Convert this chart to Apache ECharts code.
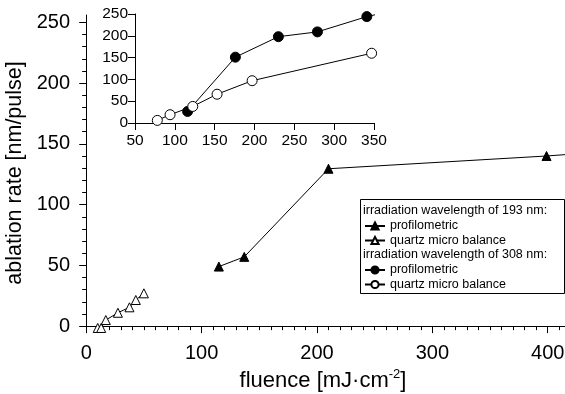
<!DOCTYPE html>
<html>
<head>
<meta charset="utf-8">
<script src="https://cdn.jsdelivr.net/npm/echarts@6/dist/echarts.min.js"></script>
<style>
  html, body { margin: 0; padding: 0; background: #fff; }
  #chart { width: 565px; height: 394px; }
</style>
</head>
<body>
<div id="chart"></div>
<script>
// fluence [mJ/cm2], ablation rate [nm/pulse]
const prof193 = [[115, 49], [137, 57], [210, 129.5], [399, 140], [500, 147]];
const qcm193 = [[10, -1.5], [13, -1.5], [17, 5], [27.5, 11], [37.5, 15.5], [43, 21.5], [50, 27]];
const prof308 = [[116, 26.5], [176, 151], [230, 198], [279, 209], [341, 244], [400, 268]];
const qcm308 = [[78, 6], [94, 19], [122.5, 38], [153, 66], [197, 97], [347, 160]];

const mainXTicks = [0, 100, 200, 300, 400];
const mainYTicks = [0, 50, 100, 150, 200, 250];
const minorX = [0, 10, 20, 30, 40, 50, 60, 70, 80, 90, 100, 110, 120, 130, 140, 150, 160, 170, 180, 190, 200,
  210, 220, 230, 240, 250, 260, 270, 280, 290, 300, 310, 320, 330, 340, 350, 360, 370, 380, 390, 400, 410];
const minorY = [0, 10, 20, 30, 40, 50, 60, 70, 80, 90, 100, 110, 120, 130, 140, 150, 160, 170, 180, 190, 200,
  210, 220, 230, 240, 250];

const legendNames = {
  p193: "profilometric",
  q193: "quartz micro balance",
  p308: "profilometric",
  q308: "quartz micro balance"
};

const FONT = "Liberation Sans, Arial, sans-serif";
const black = "#000";

const chart = echarts.init(document.getElementById("chart"));

const lineSeries = (name, data, symbol, filled, x, y, size) => ({
  name: name,
  type: "line",
  data: data,
  xAxisIndex: x,
  yAxisIndex: y,
  symbol: symbol,
  symbolSize: size,
  showAllSymbol: true,
  clip: true,
  lineStyle: { color: black, width: 1 },
  itemStyle: { color: filled ? black : "#fff", borderColor: black, borderWidth: 1 },
  z: 5
});

const legendBase = {
  orient: "vertical", left: 364, padding: 0, itemWidth: 20, itemHeight: 9, itemGap: 0,
  selectedMode: false, formatter: (n) => legendNames[n],
  textStyle: { fontSize: 12.5, lineHeight: 14.5, color: black, fontFamily: FONT }, z: 10
};

const mainGrid = { left: 81, right: 0, top: 15, bottom: 63, containLabel: false, outerBoundsMode: "none" };

chart.setOption({
  animation: false,
  textStyle: { fontFamily: FONT, color: black },
  grid: [
    mainGrid,
    { left: 135, top: 14, width: 239, height: 109, z: 3, containLabel: false, outerBoundsMode: "none" },
    Object.assign({}, mainGrid)   // carries the minor ticks of the main axes
  ],
  xAxis: [
    {
      gridIndex: 0, type: "value", min: -4.5, max: 415, position: "bottom",
      axisLine: { lineStyle: { color: black } },
      axisTick: { customValues: mainXTicks, length: 7, lineStyle: { color: black } },
      axisLabel: { customValues: mainXTicks, fontSize: 20, color: black, margin: 12 },
      splitLine: { show: false },
      name: "{a|fluence [mJ·cm}{s|-2}{a|]}",
      nameLocation: "middle", nameGap: 36,
      nameTextStyle: {
        rich: {
          a: { fontSize: 22, color: black, fontFamily: FONT },
          s: { fontSize: 13, color: black, fontFamily: FONT, padding: [0, 0, 14, 0] }
        }
      }
    },
    {
      gridIndex: 1, type: "value", min: 50, max: 350, interval: 50,
      axisLine: { lineStyle: { color: black } },
      axisTick: { length: 7, lineStyle: { color: black } },
      axisLabel: { fontSize: 15.5, color: black, margin: 10 },
      splitLine: { show: false }
    },
    {
      gridIndex: 2, type: "value", min: -4.5, max: 415, position: "bottom",
      axisLine: { show: false },
      axisTick: { show: true, customValues: minorX, length: 4, lineStyle: { color: black } },
      axisLabel: { show: true, customValues: minorX, formatter: () => "" },
      splitLine: { show: false }
    }
  ],
  yAxis: [
    {
      gridIndex: 0, type: "value", min: -4, max: 256, position: "left",
      axisLine: { show: true, lineStyle: { color: black } },
      axisTick: { show: true, customValues: mainYTicks, length: 7, lineStyle: { color: black } },
      axisLabel: { customValues: mainYTicks, fontSize: 20, color: black, margin: 11 },
      splitLine: { show: false },
      name: "ablation rate [nm/pulse]",
      nameLocation: "middle", nameGap: 35,
      nameTextStyle: { fontSize: 21.5, color: black }
    },
    {
      gridIndex: 1, type: "value", min: 0, max: 250, interval: 50,
      axisLine: { show: true, lineStyle: { color: black } },
      axisTick: { show: true, length: 7, lineStyle: { color: black } },
      axisLabel: { fontSize: 15.5, color: black, margin: 7 },
      splitLine: { show: false }
    },
    {
      gridIndex: 2, type: "value", min: -4, max: 256, position: "left",
      axisLine: { show: false },
      axisTick: { show: true, customValues: minorY, length: 4, lineStyle: { color: black } },
      axisLabel: { show: true, customValues: minorY, formatter: () => "" },
      splitLine: { show: false }
    }
  ],
  legend: [
    Object.assign({}, legendBase, { data: ["p193", "q193"], top: 218.75 }),
    Object.assign({}, legendBase, { data: ["p308", "q308"], top: 262.75 })
  ],
  graphic: [
    {
      type: "rect", left: 360, top: 199, z: 6,
      shape: { width: 204, height: 94 },
      style: { fill: "#fff", stroke: black, lineWidth: 1 }
    },
    {
      type: "text", x: 363, y: 211, z: 7,
      style: { text: "irradiation wavelength of 193 nm:", font: "12.5px " + FONT, fill: black, verticalAlign: "middle" }
    },
    {
      type: "text", x: 363, y: 255, z: 7,
      style: { text: "irradiation wavelength of 308 nm:", font: "12.5px " + FONT, fill: black, verticalAlign: "middle" }
    }
  ],
  series: [
    lineSeries("p193", prof193, "triangle", true, 0, 0, 9),
    lineSeries("q193", qcm193, "triangle", false, 0, 0, 9),
    lineSeries("p308", prof308, "circle", true, 1, 1, 10),
    lineSeries("q308", qcm308, "circle", false, 1, 1, 10)
  ]
});
</script>
</body>
</html>
